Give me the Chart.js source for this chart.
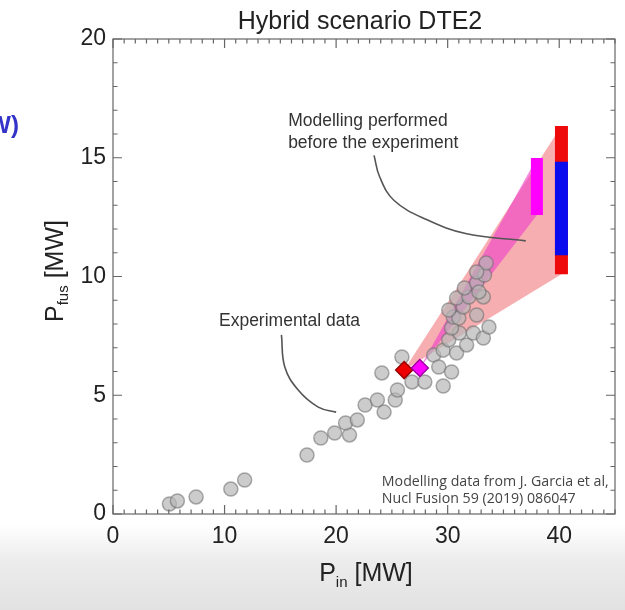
<!DOCTYPE html>
<html><head><meta charset="utf-8">
<script src="https://cdn.jsdelivr.net/npm/chart.js@4.4.1/dist/chart.umd.min.js"></script>
<style>html,body{margin:0;padding:0;background:#fff;overflow:hidden}canvas{display:block}</style>
</head><body>
<canvas id="c" width="625" height="610"></canvas>
<script>
// ---------- data ----------
const xTickValues = [0, 10, 20, 30, 40];
const yTickValues = [0, 5, 10, 15, 20];

// experimental data (P_in, P_fus) in MW
const expPin = [5.06, 5.77, 7.45, 10.56, 11.8, 17.39, 18.63, 19.87, 21.2, 20.85, 21.9, 22.6, 23.7, 24.3, 25.3, 25.5,
  24.1, 25.9, 26.8, 27.95, 28.75, 29.2, 30.35, 29.6, 30.1, 30.8, 31.7, 31.05, 32.3, 33.2, 33.7, 30.35, 30.5, 31.0,
  30.1, 31.4, 32.6, 30.8, 31.9, 33.2, 31.5, 32.6, 33.3, 33.45, 32.8, 32.6, 29.6];
const expPfus = [0.42, 0.55, 0.72, 1.05, 1.43, 2.48, 3.2, 3.41, 3.33, 3.83, 3.96, 4.59, 4.8, 4.29, 4.8, 5.22,
  5.94, 6.61, 5.56, 5.56, 6.69, 6.19, 5.98, 6.9, 7.33, 6.78, 7.12, 7.62, 7.62, 7.41, 7.87, 7.83, 8.29, 8.25,
  8.59, 8.72, 8.38, 9.09, 9.14, 9.14, 9.52, 9.73, 10.06, 10.57, 9.35, 10.19, 5.39];

// modelling of the experiment (diamonds): red, magenta
const diamondPin = [26.1, 27.5];
const diamondPfus = [6.06, 6.15];

// modelling performed before the experiment (ranges)
const magentaPin = 38.0, magentaLow = 12.59, magentaHigh = 14.99;
const redPin = 40.2, redLow = 10.1, redHigh = 16.34;
const blueLow = 10.9, blueHigh = 14.83;

// annotation leader curves
const leaderModelX = [23.4, 23.9, 25.2, 28.1, 31.7, 37.0];
const leaderModelY = [15.1, 14.2, 13.2, 12.4, 11.8, 11.5];
const leaderExpX = [15.1, 15.4, 16.6, 18.4, 20.0];
const leaderExpY = [7.54, 6.19, 5.22, 4.5, 4.29];

// ---------- helpers ----------
const pts = (xs, ys) => xs.map((x, i) => ({x, y: ys[i]}));
const seg = (x, lo, hi) => [{x, y: lo}, {x, y: hi}];

const FONT = '"Liberation Sans", Arial, Helvetica, sans-serif';

function drawParts(ctx, parts, x, y) {
  let w = 0;
  parts.forEach(p => { ctx.font = p.size + 'px ' + FONT; p.w = ctx.measureText(p.t).width; w += p.w; });
  let cx = x - w / 2;
  ctx.textBaseline = 'alphabetic';
  ctx.textAlign = 'left';
  parts.forEach(p => { ctx.font = p.size + 'px ' + FONT; ctx.fillText(p.t, cx, y + (p.dy || 0)); cx += p.w; });
}

const framePlugin = {
  id: 'frame',
  beforeDraw(chart) {
    const ctx = chart.ctx, H = chart.height, W = chart.width;
    ctx.save();
    ctx.globalCompositeOperation = 'destination-over';
    const g = ctx.createLinearGradient(0, 0, 0, H);
    g.addColorStop(0, '#ffffff');
    g.addColorStop(0.86, '#ffffff');
    g.addColorStop(0.92, '#ececec');
    g.addColorStop(1, '#e2e2e2');
    ctx.fillStyle = g;
    ctx.fillRect(0, 0, W, H);
    ctx.restore();
  },
  afterDraw(chart) {
    const ctx = chart.ctx, a = chart.chartArea;
    const xs = chart.scales.x, ys = chart.scales.y;
    ctx.save();
    // frame
    ctx.strokeStyle = '#666';
    ctx.lineWidth = 1.2;
    ctx.strokeRect(a.left, a.top, a.right - a.left, a.bottom - a.top);
    // inward ticks
    ctx.beginPath();
    for (let v = xs.min; v <= xs.max; v += 1) {
      const px = xs.getPixelForValue(v);
      const L = (v % 10 === 0) ? 9 : 4.5;
      ctx.moveTo(px, a.bottom); ctx.lineTo(px, a.bottom - L);
      ctx.moveTo(px, a.top); ctx.lineTo(px, a.top + L);
    }
    for (let v = ys.min; v <= ys.max; v += 1) {
      const py = ys.getPixelForValue(v);
      const L = (v % 5 === 0) ? 9 : 4.5;
      ctx.moveTo(a.left, py); ctx.lineTo(a.left + L, py);
      ctx.moveTo(a.right, py); ctx.lineTo(a.right - L, py);
    }
    ctx.stroke();

    // title
    ctx.fillStyle = '#222';
    ctx.font = '25px ' + FONT;
    ctx.textAlign = 'center';
    ctx.textBaseline = 'alphabetic';
    ctx.fillText('Hybrid scenario DTE2', (a.left + a.right) / 2 - 4, 29);

    // x title
    drawParts(ctx, [{t: 'P', size: 25}, {t: 'in', size: 15, dy: 6}, {t: ' [MW]', size: 25}], (a.left + a.right) / 2 + 2, 581);
    // y title
    ctx.save();
    ctx.translate(63, 271);
    ctx.rotate(-Math.PI / 2);
    drawParts(ctx, [{t: 'P', size: 25}, {t: 'fus', size: 15, dy: 5}, {t: ' [MW]', size: 25}], 0, 0);
    ctx.restore();

    // annotations
    ctx.fillStyle = '#333';
    ctx.textAlign = 'left';
    ctx.textBaseline = 'middle';
    ctx.font = '17.5px ' + FONT;
    ctx.fillText('Modelling performed', xs.getPixelForValue(15.7), ys.getPixelForValue(16.56));
    ctx.fillText('before the experiment', xs.getPixelForValue(15.7), ys.getPixelForValue(15.62));
    ctx.fillText('Experimental data', xs.getPixelForValue(9.5), ys.getPixelForValue(8.1));
    ctx.font = '14.2px "Open Sans", "Noto Sans", sans-serif';
    ctx.fillStyle = '#444';
    ctx.fillText('Modelling data from J. Garcia et al,', xs.getPixelForValue(24.1), ys.getPixelForValue(1.36));
    ctx.fillText('Nucl Fusion 59 (2019) 086047', xs.getPixelForValue(24.1), ys.getPixelForValue(0.62));

    // cut-off text from the slide at the left edge
    ctx.fillStyle = '#3434c8';
    ctx.font = 'bold 24px ' + FONT;
    ctx.textAlign = 'right';
    ctx.fillText('(MW)', 19, 126);
    ctx.restore();
  }
};

const lineBase = {type: 'line', pointRadius: 0, pointHoverRadius: 0, showLine: true};

new Chart(document.getElementById('c'), {
  type: 'scatter',
  data: {
    datasets: [
      // 0,1 salmon fan
      Object.assign({}, lineBase, {data: [{x: diamondPin[0], y: diamondPfus[0]}, {x: redPin, y: redHigh}],
        borderWidth: 0, borderColor: 'rgba(0,0,0,0)', backgroundColor: 'rgba(242,115,120,0.58)', fill: '+1', order: 20}),
      Object.assign({}, lineBase, {data: [{x: diamondPin[0], y: diamondPfus[0]}, {x: redPin, y: redLow}],
        borderWidth: 0, borderColor: 'rgba(0,0,0,0)', fill: false, order: 21}),
      // 2,3 magenta fan
      Object.assign({}, lineBase, {data: [{x: diamondPin[1], y: diamondPfus[1]}, {x: magentaPin, y: magentaHigh}],
        borderWidth: 0, borderColor: 'rgba(0,0,0,0)', backgroundColor: 'rgba(238,60,200,0.6)', fill: '+1', order: 18}),
      Object.assign({}, lineBase, {data: [{x: diamondPin[1], y: diamondPfus[1]}, {x: magentaPin, y: magentaLow}],
        borderWidth: 0, borderColor: 'rgba(0,0,0,0)', fill: false, order: 19}),
      // experimental data
      {data: pts(expPin, expPfus), pointRadius: 7, pointHoverRadius: 7,
        backgroundColor: 'rgba(182,182,182,0.7)', borderColor: 'rgba(105,105,105,0.55)', borderWidth: 1.5, order: 10},
      // leader curves
      Object.assign({}, lineBase, {data: pts(leaderModelX, leaderModelY), borderColor: '#555', borderWidth: 1.6, tension: 0.4, fill: false, order: 9}),
      Object.assign({}, lineBase, {data: pts(leaderExpX, leaderExpY), borderColor: '#555', borderWidth: 1.6, tension: 0.4, fill: false, order: 9}),
      // diamonds
      {data: pts(diamondPin, diamondPfus), pointStyle: 'rectRot', pointRadius: 8.5, pointHoverRadius: 8.5,
        backgroundColor: ['#ee0000', '#ff00ff'], borderColor: ['#9a0000', '#a000a0'], borderWidth: 1.5, order: 5},
      // bars
      Object.assign({}, lineBase, {data: seg(magentaPin, magentaLow, magentaHigh), borderColor: '#ff00ff', borderWidth: 12, borderCapStyle: 'butt', fill: false, order: 3}),
      Object.assign({}, lineBase, {data: seg(redPin, redLow, redHigh), borderColor: '#ee0a0a', borderWidth: 13, borderCapStyle: 'butt', fill: false, order: 2}),
      Object.assign({}, lineBase, {data: seg(redPin, blueLow, blueHigh), borderColor: '#0a0aee', borderWidth: 13, borderCapStyle: 'butt', fill: false, order: 1})
    ]
  },
  options: {
    responsive: false,
    animation: false,
    devicePixelRatio: 1,
    layout: {padding: {top: 39, right: 5, left: 0, bottom: 0}},
    plugins: {legend: {display: false}, title: {display: false}, tooltip: {enabled: false}},
    events: [],
    scales: {
      x: {
        type: 'linear', min: 0, max: 45,
        afterFit(s) { s.height = 96; },
        afterBuildTicks(s) { s.ticks = xTickValues.map(v => ({value: v})); },
        grid: {display: false, drawTicks: false},
        border: {display: false},
        ticks: {padding: 9, color: '#222', font: {family: FONT, size: 23}}
      },
      y: {
        type: 'linear', min: 0, max: 20,
        afterFit(s) { s.width = 113; },
        afterBuildTicks(s) { s.ticks = yTickValues.map(v => ({value: v})); },
        grid: {display: false, drawTicks: false},
        border: {display: false},
        ticks: {padding: 7, color: '#222', font: {family: FONT, size: 23}}
      }
    }
  },
  plugins: [framePlugin]
});
</script>
</body></html>
